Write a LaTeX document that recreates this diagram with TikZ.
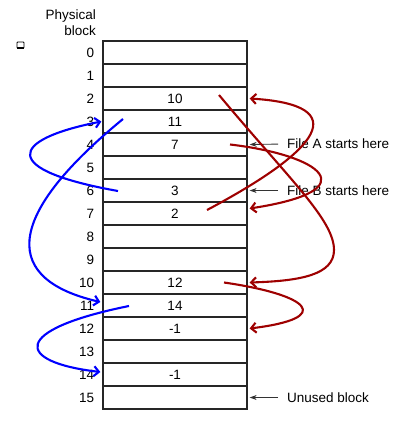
\documentclass[tikz,border=0pt]{standalone}
\usepackage{fontspec}
\setmainfont{Liberation Sans}
\usetikzlibrary{arrows.meta, positioning, calc}
\tikzset{
  blockrow/.style={rectangle, draw=black!85, line width=1.3pt,
                   minimum width=144pt, minimum height=23pt, inner sep=0pt,
                   font=\fontsize{13.5}{15}\selectfont},
  rowlabel/.style={anchor=east, inner sep=0pt, font=\fontsize{13.5}{16}\selectfont},
  note/.style={anchor=west, inner sep=0pt, font=\fontsize{13.5}{15}\selectfont},
  pointer/.style={-{Stealth[length=7pt,width=5pt]}, draw=black!80, line width=0.9pt},
  chainA/.style={-{Straight Barb[length=5pt,width=10pt]}, draw=red!62!black,
                 line width=2.1pt},
  chainB/.style={-{Straight Barb[length=5pt,width=10pt]}, draw=blue,
                 line width=2.1pt},
}

\begin{document}
\begin{tikzpicture}[x=1pt, y=-1pt]
  \useasboundingbox (0,0) rectangle (406,428);

  \node[rowlabel, align=right] (hdr) at (96,23) {Physical\\block};
  \draw[line width=0.9pt, rounded corners=0.8pt] (17,42) rectangle (24,48);
  \draw[line width=1.6pt] (17,47.8) -- (24,47.8);

  \foreach \i/\v in {0/{},1/{},2/10,3/11,4/7,5/{},6/3,7/2,8/{},9/{},
                     10/12,11/14,12/-1,13/{},14/-1,15/{}} {
    \node[blockrow] (b\i) at (175,52.5+23*\i) {\v};
    \node[rowlabel] (n\i) at ($(b\i.west)+(-8,0)$) {\i};
  }

  \node[note] (fileA) at (287,144) {File A starts here};
  \node[note] (fileB) at (287,190.5) {File B starts here};
  \node[note] (unused) at (287,397.5) {Unused block};
  \draw[pointer, shorten <=9pt, shorten >=2pt] (fileA.west) -- (b4.east);
  \draw[pointer, shorten <=9pt, shorten >=2pt] (fileB.west) -- (b6.east);
  \draw[pointer, shorten <=9pt, shorten >=2pt] (unused.west) -- (b15.east);

  \coordinate (a4)  at ($(b4.center)+(55,0)$);
  \coordinate (a7)  at ($(b7.center)+(32,-3.5)$);
  \coordinate (a2)  at ($(b2.center)+(44,-3.5)$);
  \coordinate (a10) at ($(b10.center)+(49,0)$);
  \coordinate (c6)  at ($(b6.center)+(-57,0.5)$);
  \coordinate (c3)  at ($(b3.center)+(-52,-2.5)$);
  \coordinate (c11) at ($(b11.center)+(-46,0.5)$);

  \draw[chainA] (a4) .. controls (320,155) and (370,190) .. ($(b7.east)+(2,-5)$);
  \draw[chainA] (a7) .. controls (320,150) and (355,105) .. ($(b2.east)+(2,0)$);
  \draw[chainA] (a2) .. controls (290,180) and (334,220) .. (334,250)
                     .. controls (334,275) and (300,281) .. ($(b10.east)+(2,0)$);
  \draw[chainA] (a10) .. controls (310,295) and (335,318) .. ($(b12.east)+(2,0)$);

  \draw[chainB] (c6) .. controls (0,170) and (8,140) .. ($(b3.west)+(-1,0)$);
  \draw[chainB] (c3) .. controls (0,220) and (5,280) .. ($(b11.west)+(-2,-3.5)$);
  \draw[chainB] (c11) .. controls (10,330) and (15,362) .. ($(b14.west)+(-2,-2.5)$);
\end{tikzpicture}
\end{document}
